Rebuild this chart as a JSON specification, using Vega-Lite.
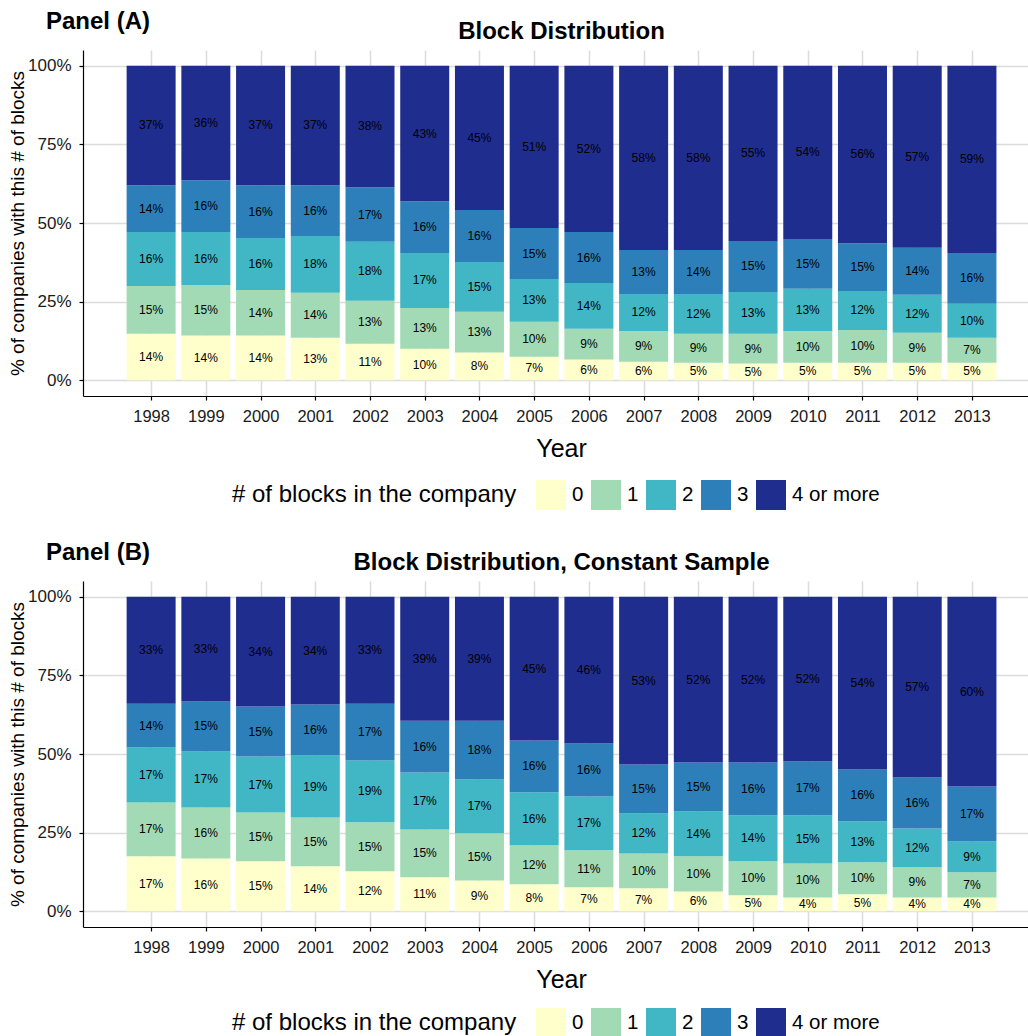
{
  "$schema": "https://vega.github.io/schema/vega-lite/v6.json",
  "padding": {"left": 8, "top": 10, "right": 0, "bottom": 0},
  "config": {
    "font": "Liberation Sans",
    "view": {"stroke": null},
    "axis": {"labelColor": "#1a1a1a", "titleColor": "#000000", "domainColor": "#000000", "tickColor": "#000000", "gridColor": "#dcdcdc", "gridWidth": 1.5, "domainWidth": 1.2, "tickWidth": 1.2, "titleFontWeight": "normal"},
    "legend": {"labelColor": "#000000", "titleColor": "#000000", "layout": {"bottom": {"anchor": "middle"}}},
    "title": {"color": "#000000"}
  },
  "datasets": {
    "A": [
      {"year":1998,"cat":"0","v":14.8,"lab":"14%"},{"year":1998,"cat":"1","v":15.2,"lab":"15%"},{"year":1998,"cat":"2","v":17.1,"lab":"16%"},{"year":1998,"cat":"3","v":14.9,"lab":"14%"},{"year":1998,"cat":"4 or more","v":38.0,"lab":"37%"},
      {"year":1999,"cat":"0","v":14.2,"lab":"14%"},{"year":1999,"cat":"1","v":16.1,"lab":"15%"},{"year":1999,"cat":"2","v":16.8,"lab":"16%"},{"year":1999,"cat":"3","v":16.5,"lab":"16%"},{"year":1999,"cat":"4 or more","v":36.4,"lab":"36%"},
      {"year":2000,"cat":"0","v":14.2,"lab":"14%"},{"year":2000,"cat":"1","v":14.5,"lab":"14%"},{"year":2000,"cat":"2","v":16.5,"lab":"16%"},{"year":2000,"cat":"3","v":16.8,"lab":"16%"},{"year":2000,"cat":"4 or more","v":38.0,"lab":"37%"},
      {"year":2001,"cat":"0","v":13.5,"lab":"13%"},{"year":2001,"cat":"1","v":14.3,"lab":"14%"},{"year":2001,"cat":"2","v":18.1,"lab":"18%"},{"year":2001,"cat":"3","v":16.1,"lab":"16%"},{"year":2001,"cat":"4 or more","v":38.0,"lab":"37%"},
      {"year":2002,"cat":"0","v":11.6,"lab":"11%"},{"year":2002,"cat":"1","v":13.7,"lab":"13%"},{"year":2002,"cat":"2","v":18.7,"lab":"18%"},{"year":2002,"cat":"3","v":17.4,"lab":"17%"},{"year":2002,"cat":"4 or more","v":38.6,"lab":"38%"},
      {"year":2003,"cat":"0","v":10.0,"lab":"10%"},{"year":2003,"cat":"1","v":13.0,"lab":"13%"},{"year":2003,"cat":"2","v":17.5,"lab":"17%"},{"year":2003,"cat":"3","v":16.4,"lab":"16%"},{"year":2003,"cat":"4 or more","v":43.1,"lab":"43%"},
      {"year":2004,"cat":"0","v":8.8,"lab":"8%"},{"year":2004,"cat":"1","v":13.0,"lab":"13%"},{"year":2004,"cat":"2","v":15.8,"lab":"15%"},{"year":2004,"cat":"3","v":16.5,"lab":"16%"},{"year":2004,"cat":"4 or more","v":45.9,"lab":"45%"},
      {"year":2005,"cat":"0","v":7.5,"lab":"7%"},{"year":2005,"cat":"1","v":11.1,"lab":"10%"},{"year":2005,"cat":"2","v":13.6,"lab":"13%"},{"year":2005,"cat":"3","v":16.2,"lab":"15%"},{"year":2005,"cat":"4 or more","v":51.6,"lab":"51%"},
      {"year":2006,"cat":"0","v":6.6,"lab":"6%"},{"year":2006,"cat":"1","v":9.8,"lab":"9%"},{"year":2006,"cat":"2","v":14.5,"lab":"14%"},{"year":2006,"cat":"3","v":16.2,"lab":"16%"},{"year":2006,"cat":"4 or more","v":52.9,"lab":"52%"},
      {"year":2007,"cat":"0","v":5.9,"lab":"6%"},{"year":2007,"cat":"1","v":9.8,"lab":"9%"},{"year":2007,"cat":"2","v":11.7,"lab":"12%"},{"year":2007,"cat":"3","v":14.0,"lab":"13%"},{"year":2007,"cat":"4 or more","v":58.6,"lab":"58%"},
      {"year":2008,"cat":"0","v":5.6,"lab":"5%"},{"year":2008,"cat":"1","v":9.2,"lab":"9%"},{"year":2008,"cat":"2","v":12.6,"lab":"12%"},{"year":2008,"cat":"3","v":14.0,"lab":"14%"},{"year":2008,"cat":"4 or more","v":58.6,"lab":"58%"},
      {"year":2009,"cat":"0","v":5.3,"lab":"5%"},{"year":2009,"cat":"1","v":9.5,"lab":"9%"},{"year":2009,"cat":"2","v":13.3,"lab":"13%"},{"year":2009,"cat":"3","v":16.2,"lab":"15%"},{"year":2009,"cat":"4 or more","v":55.7,"lab":"55%"},
      {"year":2010,"cat":"0","v":5.6,"lab":"5%"},{"year":2010,"cat":"1","v":10.1,"lab":"10%"},{"year":2010,"cat":"2","v":13.4,"lab":"13%"},{"year":2010,"cat":"3","v":15.8,"lab":"15%"},{"year":2010,"cat":"4 or more","v":55.1,"lab":"54%"},
      {"year":2011,"cat":"0","v":5.6,"lab":"5%"},{"year":2011,"cat":"1","v":10.4,"lab":"10%"},{"year":2011,"cat":"2","v":12.4,"lab":"12%"},{"year":2011,"cat":"3","v":15.2,"lab":"15%"},{"year":2011,"cat":"4 or more","v":56.4,"lab":"56%"},
      {"year":2012,"cat":"0","v":5.6,"lab":"5%"},{"year":2012,"cat":"1","v":9.5,"lab":"9%"},{"year":2012,"cat":"2","v":12.1,"lab":"12%"},{"year":2012,"cat":"3","v":14.9,"lab":"14%"},{"year":2012,"cat":"4 or more","v":57.9,"lab":"57%"},
      {"year":2013,"cat":"0","v":5.6,"lab":"5%"},{"year":2013,"cat":"1","v":7.9,"lab":"7%"},{"year":2013,"cat":"2","v":10.8,"lab":"10%"},{"year":2013,"cat":"3","v":16.2,"lab":"16%"},{"year":2013,"cat":"4 or more","v":59.5,"lab":"59%"}
    ],
    "B": [
      {"year":1998,"cat":"0","v":17.5,"lab":"17%"},{"year":1998,"cat":"1","v":17.1,"lab":"17%"},{"year":1998,"cat":"2","v":17.5,"lab":"17%"},{"year":1998,"cat":"3","v":13.9,"lab":"14%"},{"year":1998,"cat":"4 or more","v":34.0,"lab":"33%"},
      {"year":1999,"cat":"0","v":16.8,"lab":"16%"},{"year":1999,"cat":"1","v":16.2,"lab":"16%"},{"year":1999,"cat":"2","v":17.8,"lab":"17%"},{"year":1999,"cat":"3","v":15.9,"lab":"15%"},{"year":1999,"cat":"4 or more","v":33.3,"lab":"33%"},
      {"year":2000,"cat":"0","v":15.9,"lab":"15%"},{"year":2000,"cat":"1","v":15.5,"lab":"15%"},{"year":2000,"cat":"2","v":17.8,"lab":"17%"},{"year":2000,"cat":"3","v":15.9,"lab":"15%"},{"year":2000,"cat":"4 or more","v":34.9,"lab":"34%"},
      {"year":2001,"cat":"0","v":14.3,"lab":"14%"},{"year":2001,"cat":"1","v":15.5,"lab":"15%"},{"year":2001,"cat":"2","v":19.7,"lab":"19%"},{"year":2001,"cat":"3","v":16.2,"lab":"16%"},{"year":2001,"cat":"4 or more","v":34.3,"lab":"34%"},
      {"year":2002,"cat":"0","v":12.7,"lab":"12%"},{"year":2002,"cat":"1","v":15.6,"lab":"15%"},{"year":2002,"cat":"2","v":19.6,"lab":"19%"},{"year":2002,"cat":"3","v":18.1,"lab":"17%"},{"year":2002,"cat":"4 or more","v":34.0,"lab":"33%"},
      {"year":2003,"cat":"0","v":10.8,"lab":"11%"},{"year":2003,"cat":"1","v":15.2,"lab":"15%"},{"year":2003,"cat":"2","v":18.1,"lab":"17%"},{"year":2003,"cat":"3","v":16.5,"lab":"16%"},{"year":2003,"cat":"4 or more","v":39.4,"lab":"39%"},
      {"year":2004,"cat":"0","v":9.8,"lab":"9%"},{"year":2004,"cat":"1","v":15.0,"lab":"15%"},{"year":2004,"cat":"2","v":17.1,"lab":"17%"},{"year":2004,"cat":"3","v":18.7,"lab":"18%"},{"year":2004,"cat":"4 or more","v":39.4,"lab":"39%"},
      {"year":2005,"cat":"0","v":8.6,"lab":"8%"},{"year":2005,"cat":"1","v":12.4,"lab":"12%"},{"year":2005,"cat":"2","v":16.8,"lab":"16%"},{"year":2005,"cat":"3","v":16.5,"lab":"16%"},{"year":2005,"cat":"4 or more","v":45.7,"lab":"45%"},
      {"year":2006,"cat":"0","v":7.6,"lab":"7%"},{"year":2006,"cat":"1","v":11.8,"lab":"11%"},{"year":2006,"cat":"2","v":17.1,"lab":"17%"},{"year":2006,"cat":"3","v":16.8,"lab":"16%"},{"year":2006,"cat":"4 or more","v":46.7,"lab":"46%"},
      {"year":2007,"cat":"0","v":7.3,"lab":"7%"},{"year":2007,"cat":"1","v":11.1,"lab":"10%"},{"year":2007,"cat":"2","v":12.7,"lab":"12%"},{"year":2007,"cat":"3","v":15.6,"lab":"15%"},{"year":2007,"cat":"4 or more","v":53.3,"lab":"53%"},
      {"year":2008,"cat":"0","v":6.3,"lab":"6%"},{"year":2008,"cat":"1","v":11.2,"lab":"10%"},{"year":2008,"cat":"2","v":14.2,"lab":"14%"},{"year":2008,"cat":"3","v":15.6,"lab":"15%"},{"year":2008,"cat":"4 or more","v":52.7,"lab":"52%"},
      {"year":2009,"cat":"0","v":5.1,"lab":"5%"},{"year":2009,"cat":"1","v":10.8,"lab":"10%"},{"year":2009,"cat":"2","v":14.6,"lab":"14%"},{"year":2009,"cat":"3","v":16.8,"lab":"16%"},{"year":2009,"cat":"4 or more","v":52.7,"lab":"52%"},
      {"year":2010,"cat":"0","v":4.4,"lab":"4%"},{"year":2010,"cat":"1","v":10.8,"lab":"10%"},{"year":2010,"cat":"2","v":15.3,"lab":"15%"},{"year":2010,"cat":"3","v":17.1,"lab":"17%"},{"year":2010,"cat":"4 or more","v":52.4,"lab":"52%"},
      {"year":2011,"cat":"0","v":5.4,"lab":"5%"},{"year":2011,"cat":"1","v":10.2,"lab":"10%"},{"year":2011,"cat":"2","v":13.0,"lab":"13%"},{"year":2011,"cat":"3","v":16.5,"lab":"16%"},{"year":2011,"cat":"4 or more","v":54.9,"lab":"54%"},
      {"year":2012,"cat":"0","v":4.4,"lab":"4%"},{"year":2012,"cat":"1","v":9.6,"lab":"9%"},{"year":2012,"cat":"2","v":12.3,"lab":"12%"},{"year":2012,"cat":"3","v":16.2,"lab":"16%"},{"year":2012,"cat":"4 or more","v":57.5,"lab":"57%"},
      {"year":2013,"cat":"0","v":4.4,"lab":"4%"},{"year":2013,"cat":"1","v":8.0,"lab":"7%"},{"year":2013,"cat":"2","v":9.8,"lab":"9%"},{"year":2013,"cat":"3","v":17.5,"lab":"17%"},{"year":2013,"cat":"4 or more","v":60.3,"lab":"60%"}
    ]
  },
  "spacing": 31,
  "resolve": {"scale": {"color": "independent"}},
  "vconcat": [
    {
      "title": {"text": "Panel (A)", "anchor": "start", "frame": "group", "fontSize": 24, "fontWeight": "bold", "dx": -37, "dy": 19},
      "width": 946, "height": 346,
      "data": {"name": "A"},
      "transform": [
        {"stack": "v", "groupby": ["year"], "sort": [{"field": "cat", "order": "ascending"}], "offset": "normalize", "as": ["y0", "y1"]},
        {"calculate": "(datum.y0 + datum.y1) / 2", "as": "mid"}
      ],
      "layer": [
        {
          "mark": {"type": "bar", "width": 49},
          "encoding": {
            "x": {"field": "year", "type": "quantitative", "scale": {"domain": [1996.755, 2014.043], "nice": false, "zero": false, "padding": 0},
                  "axis": {"orient": "bottom", "values": [1998,1999,2000,2001,2002,2003,2004,2005,2006,2007,2008,2009,2010,2011,2012,2013], "format": "d", "labelFontSize": 16.5, "tickSize": 4, "labelPadding": 8, "title": "Year", "titleFontSize": 25, "titlePadding": 12, "titleX": 478, "grid": true}},
            "y": {"field": "y0", "type": "quantitative", "scale": {"domain": [-0.05, 1.05], "nice": false, "zero": false},
                  "axis": {"values": [0, 0.25, 0.5, 0.75, 1], "format": ".0%", "labelFontSize": 17, "tickSize": 4, "labelPadding": 8, "title": "% of companies with this # of blocks", "titleFontSize": 19, "titlePadding": 0, "grid": true}},
            "y2": {"field": "y1"},
            "color": {"field": "cat", "type": "nominal",
                      "scale": {"domain": ["0", "1", "2", "3", "4 or more"], "range": ["#ffffcc", "#a1dab4", "#41b6c4", "#2c7fb8", "#1f2d8f"]},
                      "legend": {"title": "# of blocks in the company", "orient": "bottom", "direction": "horizontal", "titleOrient": "left", "titleLimit": 600, "titleFontSize": 24, "titleFontWeight": "normal", "titlePadding": 19, "labelFontSize": 20.5, "symbolType": "square", "symbolSize": 900, "symbolStrokeWidth": 0, "symbolOpacity": 1, "labelOffset": 6, "columnPadding": 7, "offset": 18}}
          }
        },
        {
          "mark": {"type": "text", "fontSize": 12, "color": "#000000", "baseline": "middle", "align": "center"},
          "encoding": {
            "x": {"field": "year", "type": "quantitative",
                  "axis": {"orient": "top", "labels": false, "ticks": false, "domain": false, "grid": false, "title": "Block Distribution", "titleFontSize": 24, "titleFontWeight": "bold", "titlePadding": 7, "titleX": 478}},
            "y": {"field": "mid", "type": "quantitative",
                  "axis": {"values": [0, 0.25, 0.5, 0.75, 1], "format": ".0%", "labelFontSize": 17, "tickSize": 4, "labelPadding": 8, "title": "% of companies with this # of blocks", "titleFontSize": 19, "titlePadding": 0, "grid": true}},
            "text": {"field": "lab"}
          }
        }
      ],
      "resolve": {"axis": {"x": "independent"}}
    },
    {
      "title": {"text": "Panel (B)", "anchor": "start", "frame": "group", "fontSize": 24, "fontWeight": "bold", "dx": -37, "dy": 19},
      "width": 946, "height": 346,
      "data": {"name": "B"},
      "transform": [
        {"stack": "v", "groupby": ["year"], "sort": [{"field": "cat", "order": "ascending"}], "offset": "normalize", "as": ["y0", "y1"]},
        {"calculate": "(datum.y0 + datum.y1) / 2", "as": "mid"}
      ],
      "layer": [
        {
          "mark": {"type": "bar", "width": 49},
          "encoding": {
            "x": {"field": "year", "type": "quantitative", "scale": {"domain": [1996.755, 2014.043], "nice": false, "zero": false, "padding": 0},
                  "axis": {"orient": "bottom", "values": [1998,1999,2000,2001,2002,2003,2004,2005,2006,2007,2008,2009,2010,2011,2012,2013], "format": "d", "labelFontSize": 16.5, "tickSize": 4, "labelPadding": 8, "title": "Year", "titleFontSize": 25, "titlePadding": 12, "titleX": 478, "grid": true}},
            "y": {"field": "y0", "type": "quantitative", "scale": {"domain": [-0.05, 1.05], "nice": false, "zero": false},
                  "axis": {"values": [0, 0.25, 0.5, 0.75, 1], "format": ".0%", "labelFontSize": 17, "tickSize": 4, "labelPadding": 8, "title": "% of companies with this # of blocks", "titleFontSize": 19, "titlePadding": 0, "grid": true}},
            "y2": {"field": "y1"},
            "color": {"field": "cat", "type": "nominal",
                      "scale": {"domain": ["0", "1", "2", "3", "4 or more"], "range": ["#ffffcc", "#a1dab4", "#41b6c4", "#2c7fb8", "#1f2d8f"]},
                      "legend": {"title": "# of blocks in the company", "orient": "bottom", "direction": "horizontal", "titleOrient": "left", "titleLimit": 600, "titleFontSize": 24, "titleFontWeight": "normal", "titlePadding": 19, "labelFontSize": 20.5, "symbolType": "square", "symbolSize": 900, "symbolStrokeWidth": 0, "symbolOpacity": 1, "labelOffset": 6, "columnPadding": 7, "offset": 15}}
          }
        },
        {
          "mark": {"type": "text", "fontSize": 12, "color": "#000000", "baseline": "middle", "align": "center"},
          "encoding": {
            "x": {"field": "year", "type": "quantitative",
                  "axis": {"orient": "top", "labels": false, "ticks": false, "domain": false, "grid": false, "title": "Block Distribution, Constant Sample", "titleFontSize": 24, "titleFontWeight": "bold", "titlePadding": 7, "titleX": 478}},
            "y": {"field": "mid", "type": "quantitative",
                  "axis": {"values": [0, 0.25, 0.5, 0.75, 1], "format": ".0%", "labelFontSize": 17, "tickSize": 4, "labelPadding": 8, "title": "% of companies with this # of blocks", "titleFontSize": 19, "titlePadding": 0, "grid": true}},
            "text": {"field": "lab"}
          }
        }
      ],
      "resolve": {"axis": {"x": "independent"}}
    }
  ]
}
